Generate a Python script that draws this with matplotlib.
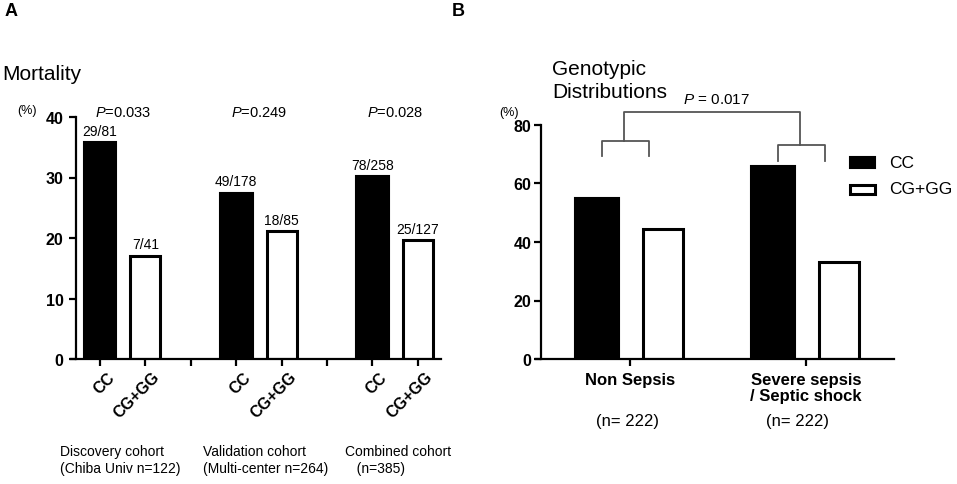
import numpy as np
import matplotlib as mpl
mpl.use('Agg')
import matplotlib.pyplot as plt
from matplotlib.patches import Rectangle
from matplotlib.transforms import ScaledTranslation

plt.rcParams['font.family'] = ['Liberation Sans', 'DejaVu Sans']
plt.rcParams['mathtext.fontset'] = 'custom'
plt.rcParams['mathtext.rm'] = 'Liberation Sans'
plt.rcParams['mathtext.it'] = 'Liberation Sans:italic'

# Panel A data: mortality by genotype in each cohort
cohorts = ['Discovery cohort\n(Chiba Univ n=122)',
           'Validation cohort\n(Multi-center n=264)',
           'Combined cohort\n   (n=385)']
genotypes = ['CC', 'CG+GG']
cc_mortality = [35.8, 27.5, 30.2]
cg_mortality = [17.1, 21.2, 19.7]
cc_counts = ['29/81', '49/178', '78/258']
cg_counts = ['7/41', '18/85', '25/127']
p_values_a = ['0.033', '0.249', '0.028']

# Panel B data: genotypic distributions
groups_b = ['Non Sepsis', 'Severe sepsis\n/ Septic shock']
n_labels_b = ['(n= 222)', '(n= 222)']
cc_dist = [55.0, 66.0]
cg_dist = [44.4, 33.2]
p_value_b = '0.017'

fig = plt.figure(figsize=(9.57, 4.85), dpi=100)

# ---------------- Panel A ----------------
axA = fig.add_axes([71 / 957, 1 - 360 / 485, 370 / 957, 242 / 485])
pos_cc = np.arange(len(cohorts)) * 3
pos_cg = pos_cc + 1
axA.bar(pos_cc, cc_mortality, width=0.72, color='black', edgecolor='black', linewidth=1.5)
axA.bar(pos_cg, cg_mortality, width=0.66, color='white', edgecolor='black', linewidth=2.2)
axA.set_xlim(-0.64, 7.51)
axA.set_ylim(0, 40)
axA.spines['top'].set_visible(False)
axA.spines['right'].set_visible(False)
axA.spines['left'].set_position(('data', -0.53))
for s in ['left', 'bottom']:
    axA.spines[s].set_linewidth(1.6)
axA.set_yticks([0, 10, 20, 30, 40])
axA.set_xticks(np.arange(8))
xlabs = []
for i in range(len(cohorts)):
    xlabs += genotypes + ['']
axA.set_xticklabels(xlabs[:8], rotation=45, ha='right', va='center',
                    rotation_mode='anchor', fontsize=11.5, fontweight='bold')
axA.tick_params(axis='x', length=5, width=1.6, pad=6)
axA.tick_params(axis='y', length=5, width=1.6, labelsize=11.5, pad=4)
shift = ScaledTranslation(0.12, 0, fig.dpi_scale_trans)
for lab in axA.get_xticklabels():
    lab.set_transform(lab.get_transform() + shift)
for lab in axA.get_yticklabels():
    lab.set_fontweight('bold')

for x, v, t in zip(pos_cc, cc_mortality, cc_counts):
    axA.annotate(t, (x, v), xytext=(0, 3), textcoords='offset points',
                 ha='center', va='bottom', fontsize=10)
for x, v, t in zip(pos_cg, cg_mortality, cg_counts):
    axA.annotate(t, (x, v), xytext=(0, 3), textcoords='offset points',
                 ha='center', va='bottom', fontsize=10)
for x, p in zip(pos_cc, p_values_a):
    axA.text(x + 0.5, 40.8, r'$\mathit{P}$=' + p, ha='center', va='center',
             fontsize=10.5, clip_on=False)

cohort_x = [60, 203, 345]
for x, c in zip(cohort_x, cohorts):
    fig.text(x / 957, 1 - 445 / 485, c, ha='left', va='top', fontsize=10,
             linespacing=1.25)

fig.text(2 / 957, 1 - 75 / 485, 'Mortality', fontsize=15, va='center', ha='left')
fig.text(17 / 957, 1 - 111 / 485, '(%)', fontsize=9, va='center', ha='left')
fig.text(5 / 957, 1 - 12 / 485, 'A', fontsize=13, fontweight='bold', va='center', ha='left')

# ---------------- Panel B ----------------
axB = fig.add_axes([536 / 957, 1 - 360 / 485, 358 / 957, 234 / 485])
pos_b = np.arange(len(groups_b))
off = 0.1875
axB.bar(pos_b - off, cc_dist, width=0.25, color='black', edgecolor='black', linewidth=1.5)
axB.bar(pos_b + off, cg_dist, width=0.23, color='white', edgecolor='black', linewidth=2.2)
axB.set_xlim(-0.534, 1.5)
axB.set_ylim(0, 80)
axB.spines['top'].set_visible(False)
axB.spines['right'].set_visible(False)
axB.spines['left'].set_position(('data', -0.505))
for s in ['left', 'bottom']:
    axB.spines[s].set_linewidth(1.6)
axB.set_yticks([0, 20, 40, 60, 80])
axB.set_xticks(pos_b)
axB.set_xticklabels(groups_b, fontsize=12, fontweight='bold', linespacing=1.1)
axB.tick_params(axis='x', length=5, width=1.6, pad=4)
axB.tick_params(axis='y', length=5, width=1.6, labelsize=11.5, pad=2)
for lab in axB.get_yticklabels():
    lab.set_fontweight('bold')

n_x = [628, 798]
for x, t in zip(n_x, n_labels_b):
    fig.text(x / 957, 1 - 422 / 485, t, ha='center', va='center', fontsize=12)

# brackets
bcol = '#555555'
kw = dict(color=bcol, lw=1.3, clip_on=False)
axB.plot([pos_b[0] - 0.16, pos_b[0] - 0.16, pos_b[0] + 0.11, pos_b[0] + 0.11],
         [69.4, 74.5, 74.5, 69.4], **kw)
axB.plot([pos_b[1] - 0.16, pos_b[1] - 0.16, pos_b[1] + 0.11, pos_b[1] + 0.11],
         [67.7, 73.2, 73.2, 67.7], **kw)
axB.plot([pos_b[0] - 0.034, pos_b[0] - 0.034, pos_b[1] - 0.034, pos_b[1] - 0.034],
         [74.5, 84.4, 84.4, 73.2], **kw)
axB.text(0.49, 89, r'$\mathit{P}$ = ' + p_value_b, ha='center', va='center',
         fontsize=11, clip_on=False)

# legend
lx = 850 / 957
fig.patches.append(Rectangle((lx, 1 - 169 / 485), 25 / 957, 11 / 485,
                             transform=fig.transFigure, facecolor='black',
                             edgecolor='black', lw=1.5))
fig.patches.append(Rectangle((lx, 1 - 195 / 485), 25 / 957, 9 / 485,
                             transform=fig.transFigure, facecolor='white',
                             edgecolor='black', lw=2.2))
fig.text(889 / 957, 1 - 163 / 485, genotypes[0], fontsize=12.5, va='center', ha='left')
fig.text(889 / 957, 1 - 190 / 485, genotypes[1], fontsize=12.5, va='center', ha='left')

fig.text(552 / 957, 1 - 81 / 485, 'Genotypic\nDistributions', fontsize=15,
         va='center', ha='left', linespacing=1.3)
fig.text(499 / 957, 1 - 113 / 485, '(%)', fontsize=9, va='center', ha='left')
fig.text(452 / 957, 1 - 12 / 485, 'B', fontsize=13, fontweight='bold', va='center', ha='left')

fig.savefig('out.png', dpi=100, facecolor='white')
